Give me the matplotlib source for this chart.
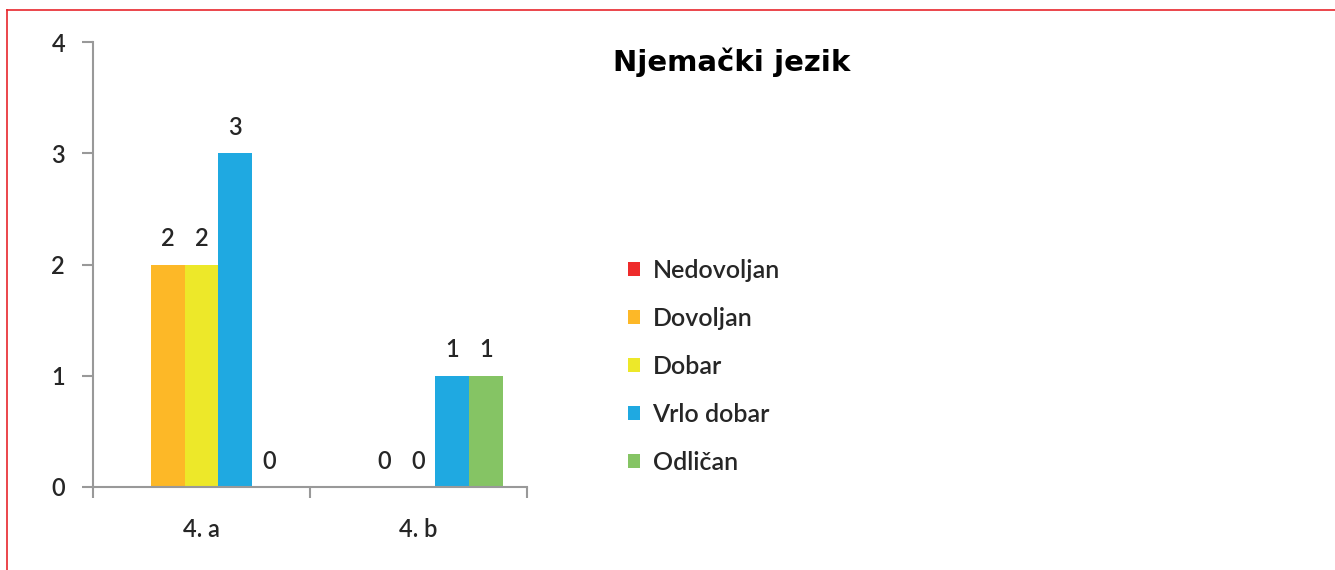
import numpy as np
import matplotlib
matplotlib.use("Agg")
from matplotlib import pyplot as plt
from matplotlib.lines import Line2D

# grades per class (Nedovoljan has no value in the source chart)
classes = ["4. a", "4. b"]
grades = ["Nedovoljan", "Dovoljan", "Dobar", "Vrlo dobar", "Odličan"]
nedovoljan = [np.nan, np.nan]
dovoljan = [2, 0]
dobar = [2, 0]
vrlo_dobar = [3, 1]
odlican = [0, 1]
series = [nedovoljan, dovoljan, dobar, vrlo_dobar, odlican]
colors = ["#EE2B2B", "#FDB827", "#EDE829", "#1FA9E1", "#85C464"]

W, H = 1335, 570
fig = plt.figure(figsize=(W / 100, H / 100), dpi=100)
ax = fig.add_axes([93 / W, 83 / H, 434 / W, 445 / H])

font = "Lato"
weight = 600
txtcol = "#262626"
x = np.arange(len(classes))
bw = 0.78 / len(grades)
for i, (vals, c, name) in enumerate(zip(series, colors, grades)):
    pos = x + (i - 2) * bw
    ax.bar(pos, np.nan_to_num(vals), bw, color=c, label=name)
    for p, v in zip(pos, vals):
        if np.isnan(v):
            continue
        ax.text(p, v + 0.13, "%d" % v, ha="center", va="bottom",
                fontsize=17, family=font, weight=weight, color=txtcol)

ax.set_xlim(-0.5, 1.5)
ax.set_ylim(0, 4)
ax.set_yticks([0, 1, 2, 3, 4])
ax.set_xticks(x)
ax.set_xticklabels(classes)
ax.set_xticks([-0.5, 0.5, 1.5], minor=True)
ax.tick_params(axis="x", which="major", length=0, pad=22)
ax.tick_params(axis="x", which="minor", length=8, color="#999999", width=1.5)
ax.tick_params(axis="y", length=8, color="#999999", width=1.5, pad=12)
for lab in ax.get_xticklabels() + ax.get_yticklabels():
    lab.set_fontfamily(font)
    lab.set_fontsize(17)
    lab.set_fontweight(weight)
    lab.set_color(txtcol)
for s in ["top", "right"]:
    ax.spines[s].set_visible(False)
for s in ["left", "bottom"]:
    ax.spines[s].set_color("#999999")
    ax.spines[s].set_linewidth(1.5)

fig.text(732 / W, 1 - 62 / H, "Njemački jezik", ha="center", va="center",
         fontsize=21, fontweight="bold", family="DejaVu Sans")

leg = ax.legend(loc="upper left", bbox_to_anchor=(605 / W, 1 - 236 / H),
                bbox_transform=fig.transFigure, frameon=False,
                prop={"family": font, "size": 18, "weight": weight},
                handlelength=0.5, handleheight=0.5, handletextpad=0.5,
                labelspacing=1.0)
for t in leg.get_texts():
    t.set_color(txtcol)

# red frame lines at top and left
fig.add_artist(Line2D([7 / W, 1], [1 - 10 / H, 1 - 10 / H], color="#E8262C",
                      lw=1.2, transform=fig.transFigure))
fig.add_artist(Line2D([7 / W, 7 / W], [0, 1 - 10 / H], color="#E8262C",
                      lw=1.2, transform=fig.transFigure))

fig.savefig("out.png", dpi=100)
